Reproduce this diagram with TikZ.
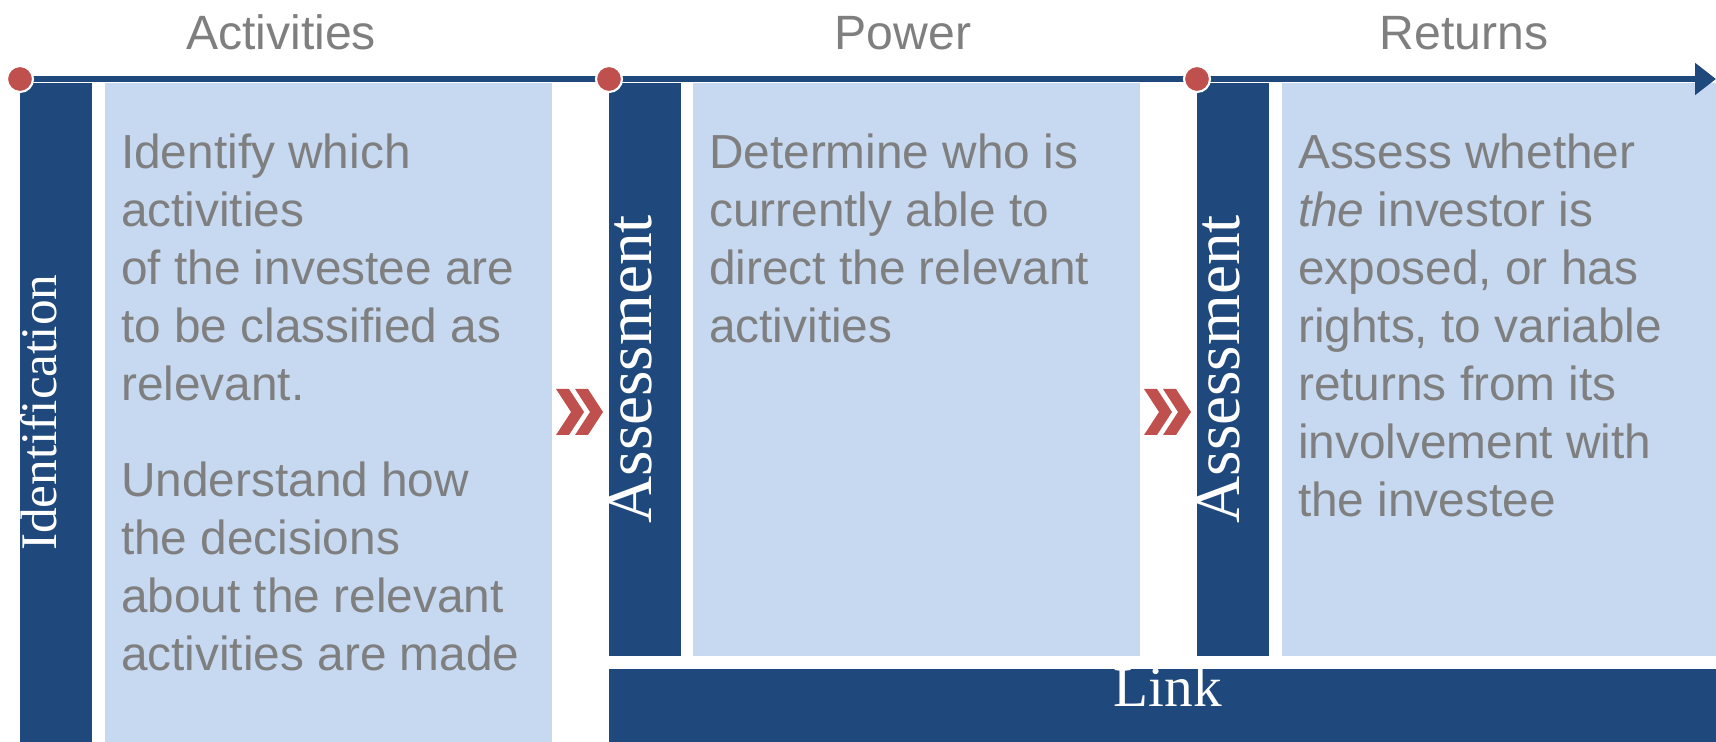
\documentclass[tikz,border=0pt]{standalone}
\usepackage{fontspec}
\setmainfont{Liberation Sans}
\newfontfamily\labelserif{Liberation Serif}
\usepackage{xcolor}
\usetikzlibrary{arrows.meta,positioning}

\definecolor{navy}{HTML}{1F497D}
\definecolor{paleblue}{HTML}{C6D9F1}
\definecolor{brick}{HTML}{C0504D}
\definecolor{textgray}{HTML}{7F7F7F}

\begin{document}
\begin{tikzpicture}[x=0.1mm, y=-0.1mm,
    navybar/.style={fill=navy, inner sep=0, anchor=north west, minimum width=7.2mm},
    palebox/.style={fill=paleblue, inner sep=0, anchor=north west, minimum width=44.7mm},
    reddot/.style={circle, fill=brick, draw=white, line width=0.6pt, inner sep=0, minimum size=2.6mm},
    heading/.style={font=\fontsize{13.7}{17}\selectfont, text=textgray, anchor=base},
    bodytext/.style={font=\fontsize{13.6}{16.5}\selectfont, text=textgray, align=left, anchor=north west, inner sep=0},
    sidelabel/.style={text=white, rotate=90, anchor=north, inner sep=0}]
  \useasboundingbox (0,0) rectangle (1716,742);

  % milestones on the time line
  \coordinate (m1) at (20,79);
  \coordinate (m2) at (609,79);
  \coordinate (m3) at (1197,79);
  \coordinate (arrowend) at (1716,79);

  % column headings
  \node[heading] (hact) at (281,50) {Activities};
  \node[heading] (hpow) at (903,50) {Power};
  \node[heading] (hret) at (1464,50) {Returns};

  % first column
  \node[navybar, minimum height=66mm] (idbar) at (19,82) {};
  \node[palebox, minimum height=66mm, right=1.2mm of idbar.north east, anchor=north west] (actbox) {};
  \node[sidelabel, font=\labelserif\fontsize{14.6}{17}\selectfont] (idlabel) at ([xshift=0.1mm]idbar.west) {Identification};
  \node[bodytext] (txtident) at ([xshift=1.6mm, yshift=-5.1mm]actbox.north west)
    {Identify which\\activities\\of the investee are\\to be classified as\\relevant.\\[10.8pt]
     Understand how\\the decisions\\about the relevant\\activities are made};

  % second column
  \node[navybar, minimum height=57.3mm] (asbar1) at (608,82) {};
  \node[palebox, minimum height=57.3mm, right=1.1mm of asbar1.north east, anchor=north west] (powbox) {};
  \node[sidelabel, font=\labelserif\fontsize{18.6}{21}\selectfont] (aslabel1) at (asbar1.west) {Assessment};
  \node[bodytext] (txtpower) at ([xshift=1.6mm, yshift=-5.1mm]powbox.north west)
    {Determine who is\\currently able to\\direct the relevant\\activities};

  % third column
  \node[navybar, minimum height=57.3mm] (asbar2) at (1196,82) {};
  \node[palebox, minimum height=57.3mm, minimum width=43.6mm, right=1.2mm of asbar2.north east, anchor=north west] (retbox) {};
  \node[sidelabel, font=\labelserif\fontsize{18.6}{21}\selectfont] (aslabel2) at (asbar2.west) {Assessment};
  \node[bodytext] (txtreturns) at ([xshift=1.6mm, yshift=-5.1mm]retbox.north west)
    {Assess whether\\\textit{the} investor is\\exposed, or has\\rights, to variable\\returns from its\\involvement with\\the investee};

  % bottom bar
  \node[navybar, minimum width=110.8mm, minimum height=7.4mm] (linkbar) at (608,668) {};
  \node[anchor=base, text=white, inner sep=0, font=\labelserif\fontsize{16.3}{19}\selectfont] (linktext)
    at ([xshift=0.5mm, yshift=-3.9mm]linkbar.north) {Link};

  % chevrons between the columns
  \foreach \cx in {556,575,1144,1163}
    \fill[brick] (\cx,389) -- ++(13,0) -- ++(15,23) -- ++(-15,23) -- ++(-13,0) -- ++(15,-23) -- cycle;

  % time line over the boxes, dots on top
  \draw[navy, line width=0.55mm, -{Triangle[length=2.1mm, width=3.1mm]}] (m1) -- (arrowend);
  \node[reddot] (dot1) at (m1) {};
  \node[reddot] (dot2) at (m2) {};
  \node[reddot] (dot3) at (m3) {};
\end{tikzpicture}
\end{document}
